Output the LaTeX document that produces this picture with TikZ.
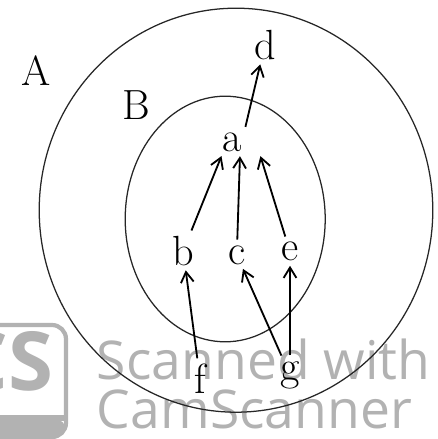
\documentclass[tikz,border=0pt]{standalone}
\usepackage{fontspec}
\newfontfamily\camfont{Open Sans}
\usetikzlibrary{arrows.meta, positioning}

\definecolor{scangray}{RGB}{178,178,178}

\begin{document}
\begin{tikzpicture}[
    every node/.style={font=\fontsize{30}{32}\selectfont},
    setline/.style={draw, line width=0.9pt, black!85},
    elem/.style={inner sep=2pt},
    arrow/.style={-{Straight Barb[length=2.6mm, width=3.2mm]}, line width=1.3pt, shorten <=2pt, shorten >=1pt},
    watermark/.style={text=scangray, font=\camfont\fontsize{38}{40}\selectfont}
]
\useasboundingbox (0,0) rectangle (10.95,10.975);

% Watermark (drawn first, lies under the sketch)
\draw[scangray, line width=3pt, rounded corners=10pt] (-1.2,0.05) rectangle (1.65,2.85);
\fill[scangray, rounded corners=8pt] (-1.2,0.05) rectangle (1.65,0.5);
\fill[scangray] (-1.2,0.45) rectangle (1.65,0.6);
\node[watermark, font=\camfont\bfseries\fontsize{58}{60}\selectfont, anchor=east] (logo) at (1.45,1.95) {CS};
\node[watermark, anchor=west] (scanned) at (2.3,2.0) {Scanned with};
\node[watermark, anchor=west] (camscanner) at (2.3,0.75) {CamScanner};

% Sets
\draw[setline] (5.9,5.72) ellipse [x radius=4.92, y radius=5.05];
\draw[setline] (5.63,5.5) ellipse [x radius=2.5, y radius=3.07];
\node[elem] (setA) at (0.9,9.2) {A};
\node[elem] (setB) at (3.4,8.35) {B};

% Elements
\node[elem] (d) at (6.62,9.85) {d};
\node[elem] (a) at (5.8,7.42) {a};
\node[elem] (b) at (4.58,4.7) {b};
\node[elem] (c) at (5.92,4.6) {c};
\node[elem] (e) at (7.25,4.68) {e};
\node[elem] (f) at (5.0,1.5) {f};
\node[elem] (g) at (7.25,1.6) {g};

% Relations
\draw[arrow] (a.north east) -- (d);
\draw[arrow] (b) -- ([xshift=-0.25cm]a.south);
\draw[arrow] (c) -- ([xshift=0.2cm]a.south);
\draw[arrow] (e) -- ([xshift=0.7cm]a.south);
\draw[arrow] (f) -- (b);
\draw[arrow] (g) -- (c);
\draw[arrow] (g) -- (e);

\end{tikzpicture}
\end{document}
